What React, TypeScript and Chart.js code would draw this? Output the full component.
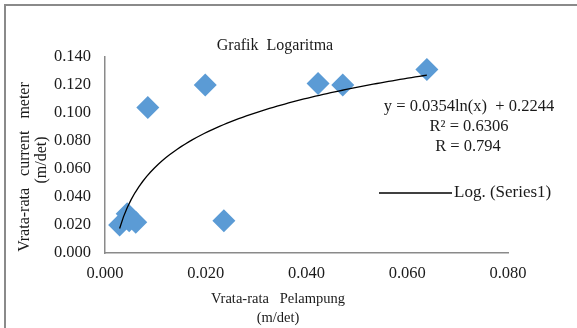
import React, { useEffect, useRef } from "react";
import { Chart, registerables } from "chart.js";

Chart.register(...registerables);

const xValues = [0.0029, 0.0044, 0.0048, 0.0061, 0.0085, 0.0199, 0.0236, 0.0423, 0.0472, 0.0639];
const yValues = [0.020, 0.028, 0.023, 0.022, 0.104, 0.120, 0.023, 0.121, 0.120, 0.131];
const trendA = 0.0354;
const trendB = 0.2244;
const chartTitle = "Grafik  Logaritma";
const xTitle = ["Vrata-rata   Pelampung", "(m/det)"];
const yTitle = ["Vrata-rata   current   meter", "(m/det)"];
const equationLines = ["y = 0.0354ln(x)  + 0.2244", "R² = 0.6306", "R = 0.794"];
const legendLabel = "Log. (Series1)";

const FONT = "'Liberation Serif', 'Times New Roman', serif";

function trendPoints() {
  const lo = Math.min(...xValues);
  const hi = Math.max(...xValues);
  const pts: { x: number; y: number }[] = [];
  const n = 80;
  for (let i = 0; i <= n; i++) {
    const x = lo + ((hi - lo) * i) / n;
    pts.push({ x, y: trendA * Math.log(x) + trendB });
  }
  return pts;
}

const decorPlugin = {
  id: "decor",
  beforeDraw(chart: any) {
    const ctx = chart.ctx;
    ctx.save();
    ctx.fillStyle = "#ffffff";
    ctx.fillRect(0, 0, chart.width, chart.height);
    ctx.strokeStyle = "#8a8a8a";
    ctx.lineWidth = 2;
    ctx.beginPath();
    ctx.moveTo(5, chart.height);
    ctx.lineTo(5, 5);
    ctx.lineTo(chart.width, 5);
    ctx.stroke();
    ctx.restore();
  },
  afterDraw(chart: any) {
    const ctx = chart.ctx;
    ctx.save();
    ctx.fillStyle = "#1a1a1a";
    ctx.textAlign = "center";
    ctx.textBaseline = "middle";
    ctx.font = `16px ${FONT}`;
    ctx.fillText(chartTitle, 275, 46);
    ctx.font = `14.5px ${FONT}`;
    ctx.fillText(xTitle[0], 278, 299);
    ctx.fillText(xTitle[1], 278, 318);
    ctx.font = `16px ${FONT}`;
    ctx.save();
    ctx.translate(25, 167);
    ctx.rotate(-Math.PI / 2);
    ctx.fillText(yTitle[0], 0, 0);
    ctx.restore();
    ctx.save();
    ctx.translate(42, 160);
    ctx.rotate(-Math.PI / 2);
    ctx.fillText(yTitle[1], 0, 0);
    ctx.restore();
    ctx.font = `16.5px ${FONT}`;
    ctx.fillText(equationLines[0], 469, 107);
    ctx.fillText(equationLines[1], 469, 127);
    ctx.fillText(equationLines[2], 468, 147);
    ctx.strokeStyle = "#000000";
    ctx.lineWidth = 1.3;
    ctx.beginPath();
    ctx.moveTo(379, 193);
    ctx.lineTo(452, 193);
    ctx.stroke();
    ctx.textAlign = "left";
    ctx.font = `17px ${FONT}`;
    ctx.fillText(legendLabel, 454, 193);
    ctx.restore();
  },
};

export default function App() {
  const ref = useRef<HTMLCanvasElement | null>(null);
  useEffect(() => {
    if (!ref.current) return;
    const chart = new Chart(ref.current, {
      type: "scatter",
      data: {
        datasets: [
          {
            type: "line",
            label: legendLabel,
            data: trendPoints(),
            borderColor: "#000000",
            borderWidth: 1.3,
            pointRadius: 0,
            fill: false,
            tension: 0,
            order: 0,
          } as any,
          {
            label: "Series1",
            data: xValues.map((x, i) => ({ x, y: yValues[i] })),
            backgroundColor: "#5B9BD5",
            borderColor: "#5B9BD5",
            pointStyle: "rectRot",
            pointRadius: 11.5,
            pointHoverRadius: 11.5,
            borderWidth: 0,
            order: 1,
          },
        ],
      },
      options: {
        responsive: false,
        animation: false,
        events: [],
        layout: { padding: { left: 0, right: 69, top: 57, bottom: 0 } },
        plugins: { legend: { display: false }, title: { display: false }, tooltip: { enabled: false } },
        scales: {
          x: {
            type: "linear",
            min: 0,
            max: 0.08,
            afterFit: (s: any) => { s.height = 75; },
            grid: { display: false, drawTicks: false },
            border: { display: true, color: "#8a8a8a", width: 1.5 },
            ticks: {
              stepSize: 0.02,
              padding: 11,
              color: "#1a1a1a",
              font: { family: FONT, size: 16.5 },
              callback: (v: any) => Number(v).toFixed(3),
            },
          },
          y: {
            type: "linear",
            min: 0,
            max: 0.14,
            afterFit: (s: any) => { s.width = 105; },
            grid: { display: false, drawTicks: false },
            border: { display: true, color: "#8a8a8a", width: 1.5 },
            ticks: {
              stepSize: 0.02,
              padding: 14,
              color: "#1a1a1a",
              font: { family: FONT, size: 16.5 },
              callback: (v: any) => Number(v).toFixed(3),
            },
          },
        },
      },
      plugins: [decorPlugin],
    });
    return () => chart.destroy();
  }, []);
  return (
    <div style={{ position: "fixed", left: 0, top: 0, width: 577, height: 328 }}>
      <canvas ref={ref} width={577} height={328} style={{ display: "block" }} />
    </div>
  );
}
